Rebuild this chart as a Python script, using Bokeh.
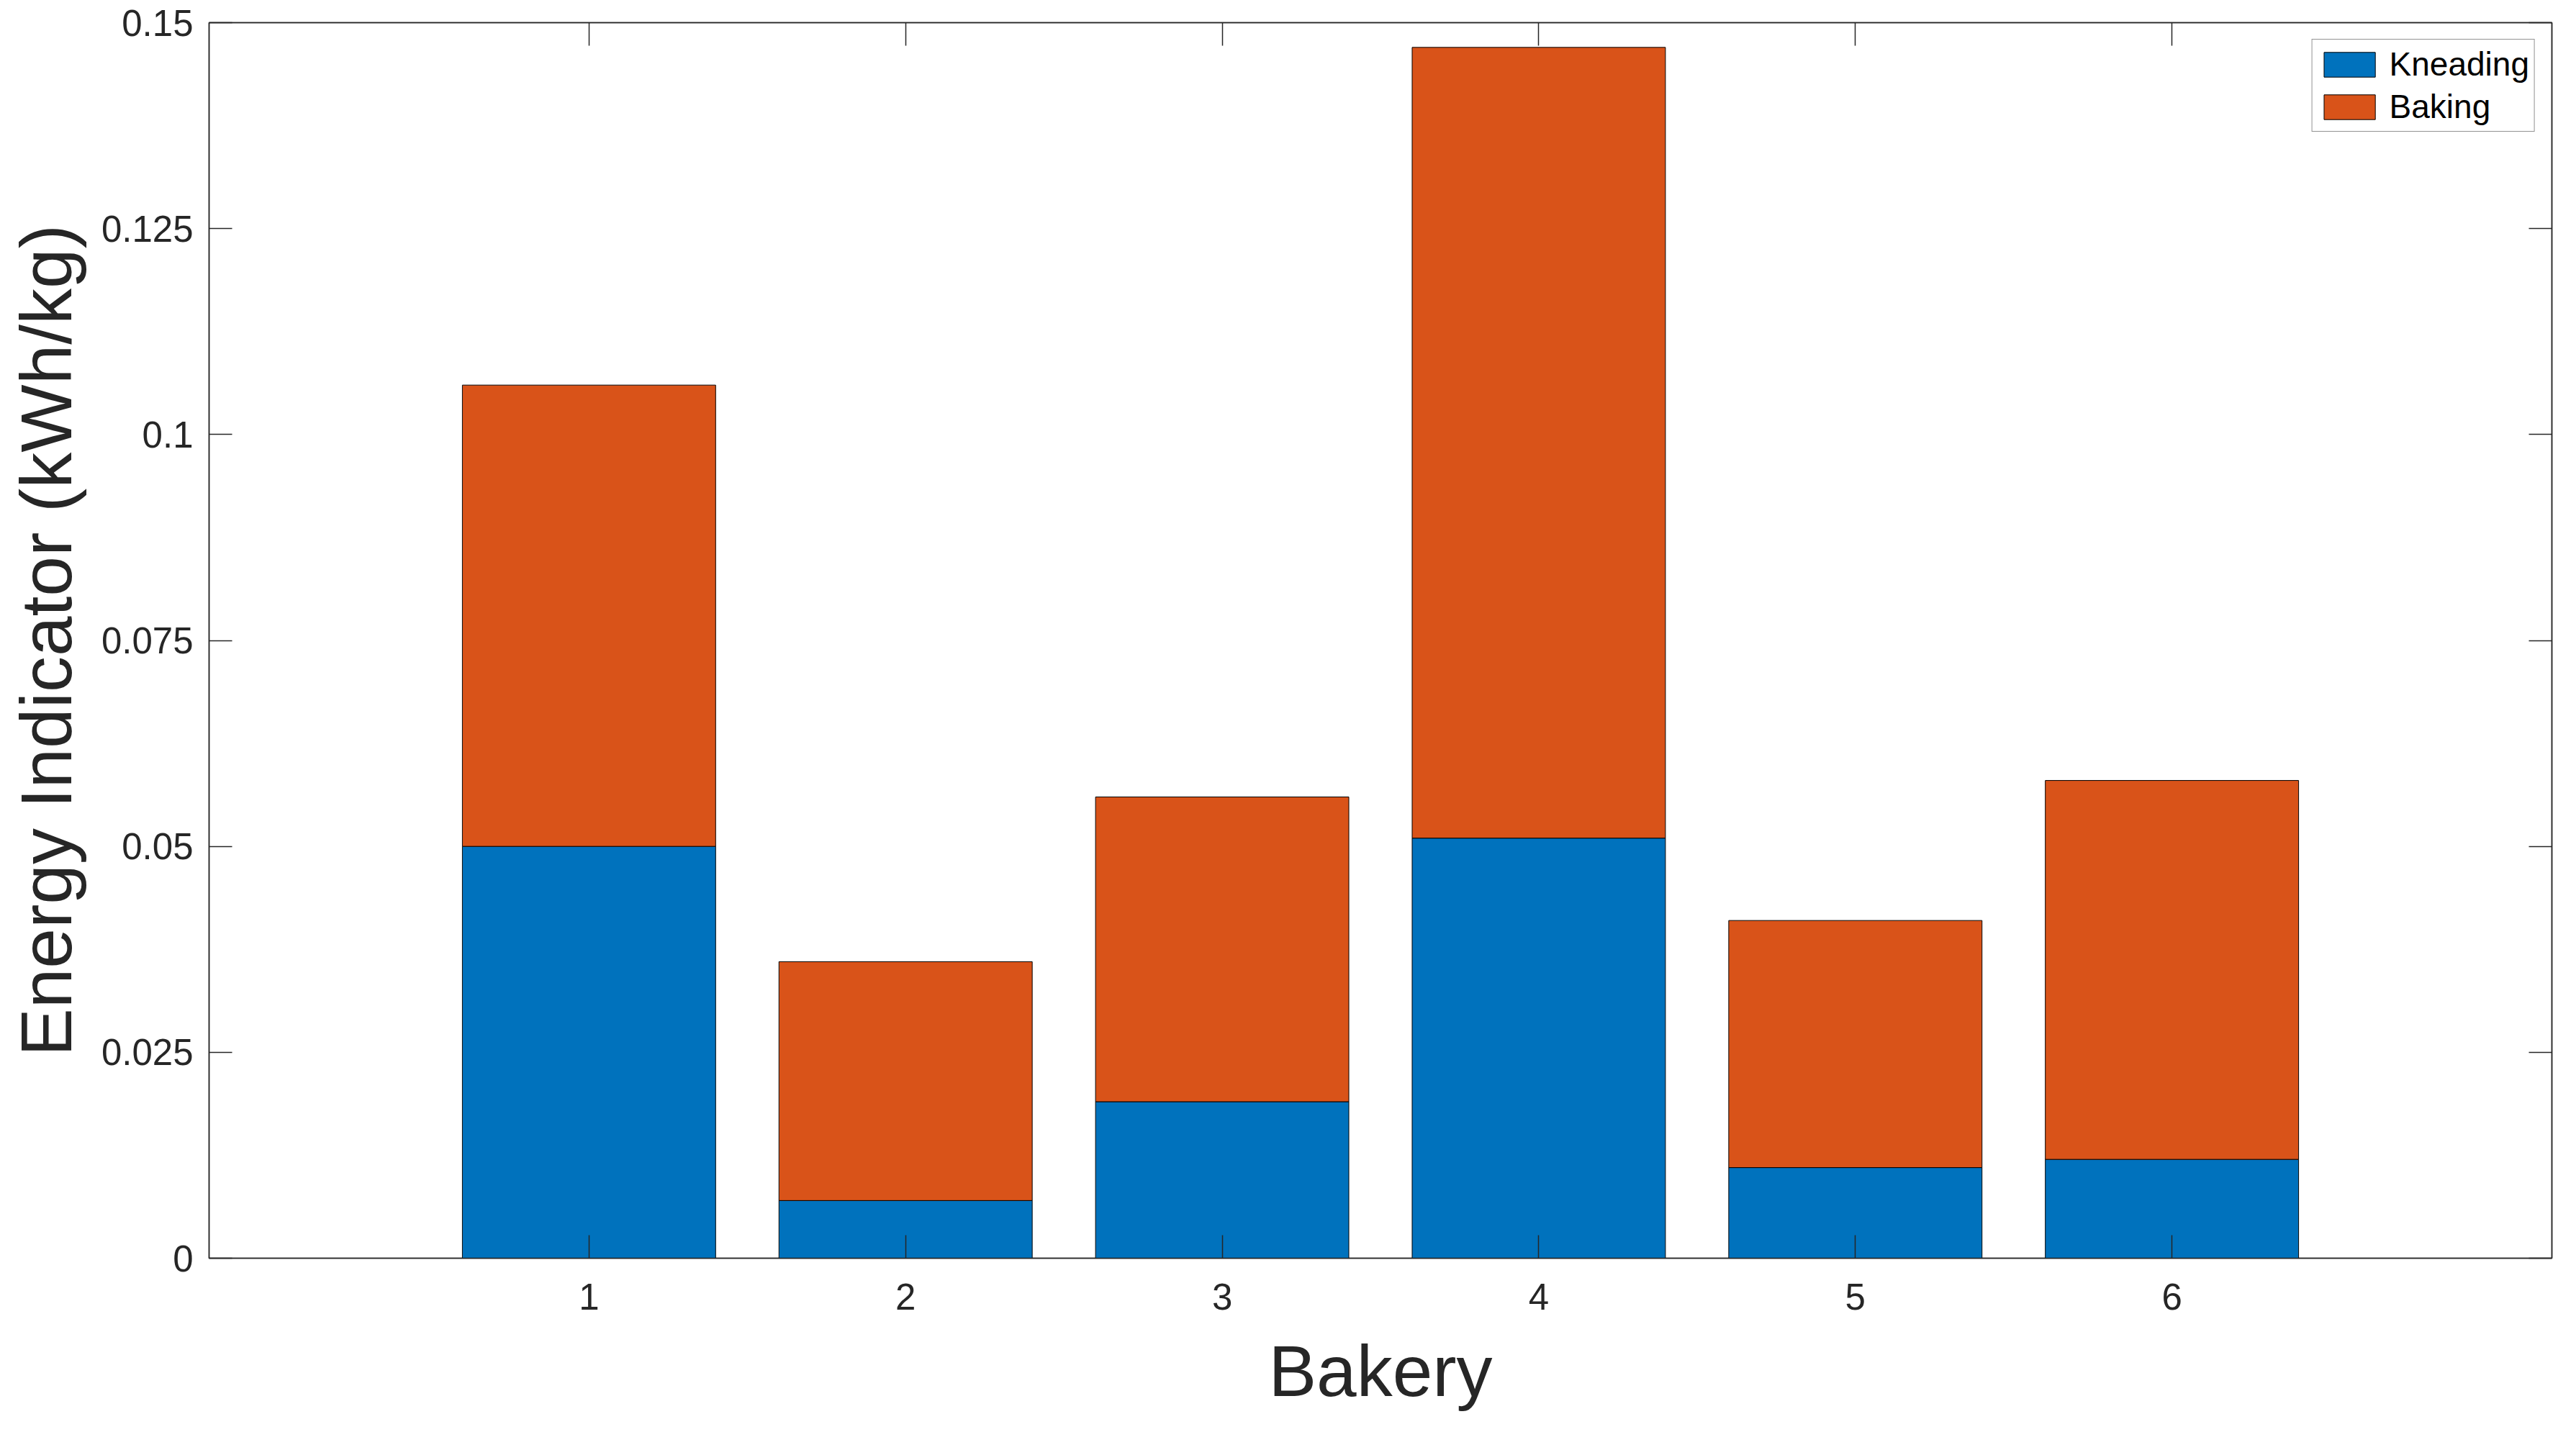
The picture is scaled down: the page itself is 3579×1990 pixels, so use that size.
from bokeh.plotting import figure
from bokeh.models import FixedTicker, LinearAxis, Range1d, ColumnDataSource
from bokeh.embed import file_html
from bokeh.resources import INLINE

# ---- data ----
bakeries = [1, 2, 3, 4, 5, 6]
kneading = [0.050, 0.007, 0.019, 0.051, 0.011, 0.012]
baking = [0.056, 0.029, 0.037, 0.096, 0.030, 0.046]
series_names = ["Kneading", "Baking"]
series_colors = ["#0072BD", "#D95319"]
y_ticks = [0, 0.025, 0.05, 0.075, 0.1, 0.125, 0.15]
y_tick_labels = ["0", "0.025", "0.05", "0.075", "0.1", "0.125", "0.15"]
x_tick_labels = ["1", "2", "3", "4", "5", "6"]
x_label = "Bakery"
y_label = "Energy Indicator (kWh/kg)"

FONT = "Liberation Sans"
AX = "#262626"

src = ColumnDataSource(data={"x": bakeries, series_names[0]: kneading, series_names[1]: baking})

p = figure(width=3571, height=1982, output_backend="svg", toolbar_location=None,
           x_range=Range1d(-0.2, 7.2), y_range=Range1d(0, 0.15),
           min_border_left=290, min_border_right=26, min_border_top=31, min_border_bottom=234)

p.vbar_stack(series_names, x="x", width=0.8, color=series_colors, line_color="black",
             line_width=1, source=src, legend_label=series_names)

p.xgrid.visible = False
p.ygrid.visible = False
p.outline_line_color = AX
p.outline_line_width = 1.5
p.background_fill_color = "white"
p.border_fill_color = "white"

def style(ax, ticks, labels=None, show=True):
    ax.ticker = FixedTicker(ticks=ticks)
    if labels is not None:
        ax.major_label_overrides = {t: l for t, l in zip(ticks, labels)}
    ax.major_tick_in = 32
    ax.major_tick_out = 0
    ax.minor_tick_line_color = None
    ax.axis_line_color = AX
    ax.axis_line_width = 1.5
    ax.major_tick_line_color = AX
    ax.major_tick_line_width = 1.5
    ax.major_label_text_font = FONT
    if show:
        ax.major_label_text_color = AX
        ax.major_label_text_font_size = "51px"
    else:
        ax.major_label_text_color = None
        ax.major_label_text_font_size = "1px"
        ax.major_label_standoff = 0

style(p.xaxis[0], bakeries, x_tick_labels)
style(p.yaxis[0], y_ticks, y_tick_labels)
p.xaxis[0].major_label_standoff = 35
p.yaxis[0].major_label_standoff = 22

p.xaxis[0].axis_label = x_label
p.yaxis[0].axis_label = y_label
for ax in (p.xaxis[0], p.yaxis[0]):
    ax.axis_label_text_font = FONT
    ax.axis_label_text_font_size = "100px"
    ax.axis_label_text_font_style = "normal"
    ax.axis_label_text_color = AX
p.xaxis[0].axis_label_standoff = 26
p.yaxis[0].axis_label_standoff = 18

right = LinearAxis()
style(right, y_ticks, None, show=False)
p.add_layout(right, "right")
top = LinearAxis()
style(top, bakeries, None, show=False)
p.add_layout(top, "above")

lg = p.legend[0]
lg.location = "top_right"
lg.margin = 23
lg.padding = 7
lg.spacing = 5
lg.glyph_width = 89
lg.glyph_height = 43
lg.label_height = 43
lg.label_standoff = 11
lg.label_text_font = FONT
lg.label_text_font_size = "46px"
lg.label_text_color = "black"
lg.border_line_color = AX
lg.border_line_width = 1.5
lg.background_fill_color = "white"
lg.background_fill_alpha = 1.0

open("out.html", "w").write(file_html(p, INLINE))
